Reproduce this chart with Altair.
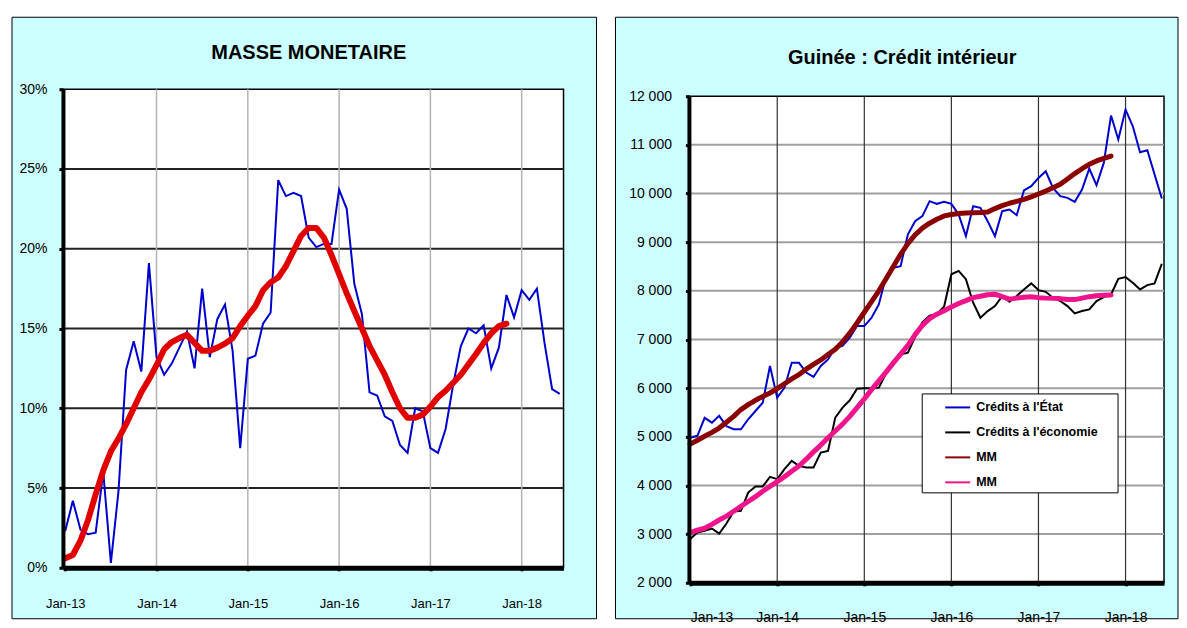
import altair as alt
import pandas as pd

# ---------------- data ----------------
year_ticks = [0, 12, 24, 36, 48, 60]          # Jan-13 ... Jan-18 (month index)
pct_ticks = [0, 5, 10, 15, 20, 25, 30]
credit_ticks = [2000, 3000, 4000, 5000, 6000, 7000, 8000, 9000, 10000, 11000, 12000]

masse_monetaire = [2.3, 4.2, 2.4, 2.1, 2.2, 6.0, 0.3, 4.8, 12.4, 14.2, 12.3, 19.1,
                   13.2, 12.1, 12.8, 13.8, 14.8, 12.5, 17.5, 13.2, 15.6, 16.5, 13.6, 7.5,
                   13.1, 13.3, 15.3, 16.0, 24.3, 23.3, 23.5, 23.3, 20.7, 20.1, 20.3, 20.3,
                   23.7, 22.5, 17.8, 15.9, 11.0, 10.8, 9.5, 9.2, 7.7, 7.2, 10.0, 9.8,
                   7.5, 7.2, 8.7, 11.5, 13.9, 15.0, 14.7, 15.2, 12.5, 13.8, 17.1, 15.7,
                   17.4, 16.8, 17.5, 14.1, 11.2, 10.9]
masse_mm = [0.6, 0.8, 1.7, 3.0, 4.6, 6.1, 7.3, 8.1, 9.0, 10.0, 11.0, 11.8,
            12.7, 13.7, 14.15, 14.4, 14.6, 14.1, 13.6, 13.6, 13.8, 14.05, 14.4, 15.15,
            15.8, 16.4, 17.4, 17.9, 18.2, 18.9, 19.85, 20.8, 21.3, 21.3, 20.7, 19.6,
            18.4, 17.2, 16.1, 15.0, 13.9, 13.0, 12.1, 11.0, 10.0, 9.4, 9.4, 9.6,
            10.1, 10.7, 11.1, 11.6, 12.1, 12.75, 13.4, 14.1, 14.7, 15.15, 15.3]

credits_etat = [4980, 5020, 5390, 5290, 5430, 5220, 5155, 5155, 5360, 5530, 5700, 6455,
                5805, 6010, 6520, 6520, 6320, 6230, 6455, 6590, 6830, 6870, 7036, 7276,
                7276, 7447, 7721, 8300, 8473, 8508, 9158, 9432, 9535, 9843, 9788, 9829,
                9788, 9569, 9124, 9740, 9706, 9432, 9124, 9637, 9672, 9555, 10062, 10150,
                10321, 10458, 10116, 9945, 9910, 9829, 10082, 10513, 10171, 10629, 11602, 11109,
                11725, 11382, 10848, 10889, 10390, 9898]
credits_economie = [2900, 3033, 3068, 3115, 3012, 3218, 3464, 3478, 3854, 3977, 3977, 4176,
                    4129, 4334, 4505, 4402, 4368, 4368, 4675, 4710, 5394, 5600, 5751, 5990,
                    6000, 6000, 6010, 6300, 6550, 6690, 6730, 7050, 7350, 7490, 7520, 7680,
                    8340, 8410, 8240, 7755, 7447, 7584, 7687, 7892, 7775, 7892, 8029, 8153,
                    8015, 7980, 7858, 7790, 7687, 7537, 7584, 7619, 7790, 7872, 7926, 8248,
                    8282, 8165, 8029, 8118, 8153, 8556]
mm_etat = [4850, 4930, 5010, 5090, 5180, 5300, 5420, 5560, 5660, 5750, 5830, 5900,
           5990, 6090, 6190, 6280, 6390, 6490, 6580, 6690, 6800, 6950, 7130, 7340,
           7560, 7780, 8000, 8250, 8500, 8750, 8970, 9150, 9290, 9390, 9470, 9540,
           9570, 9590, 9600, 9605, 9610, 9620, 9690, 9750, 9800, 9840, 9880, 9930,
           9990, 10050, 10120, 10190, 10300, 10410, 10510, 10600, 10670, 10720, 10770]
mm_economie = [3030, 3080, 3120, 3200, 3290, 3370, 3470, 3570, 3670, 3770, 3880, 3980,
               4080, 4180, 4290, 4400, 4540, 4690, 4830, 4980, 5120, 5260, 5420, 5600,
               5780, 5970, 6150, 6330, 6520, 6700, 6880, 7100, 7290, 7430, 7520, 7590,
               7670, 7740, 7800, 7860, 7890, 7920, 7930, 7880, 7830, 7850, 7870, 7880,
               7860, 7850, 7845, 7840, 7820, 7820, 7850, 7880, 7900, 7910, 7915]

series_names = ["Crédits à l'État", "Crédits à l'économie", "MM1", "MM2"]
series_colors = ["#0000CC", "#000000", "#8B0000", "#F0148C"]

# ---------------- styling ----------------
FONT = "'Liberation Sans Narrow', 'Arial Narrow', 'Liberation Sans', Arial, sans-serif"
CYAN = "#CCFFFF"
one = pd.DataFrame({"a": [0]})

# ================= LEFT PANEL =================
LW, LH = 501, 479
xs_l = alt.Scale(domain=[-0.3, 65.5], nice=False, zero=False)
ys_l = alt.Scale(domain=[0, 30], nice=False)

l_xaxis = alt.Axis(values=year_ticks, labelExpr="'Jan-' + (13 + datum.value/12)",
                   title=None, grid=False, domainColor="black", domainWidth=5,
                   tickColor="black", tickSize=3, tickWidth=3, labelPadding=27,
                   labelFont=FONT, labelFontSize=13, labelColor="black", zindex=1)
l_yaxis = alt.Axis(values=pct_ticks, labelExpr="datum.value + '%'", title=None,
                   grid=False, domainColor="black", domainWidth=4, tickColor="black",
                   tickSize=4, tickWidth=3, labelPadding=12, labelFont=FONT,
                   labelFontSize=14, labelColor="black", zindex=1)

df_mm = pd.DataFrame({"k": list(range(len(masse_monetaire))), "v": masse_monetaire})
df_mma = pd.DataFrame({"k": list(range(len(masse_mm))), "v": masse_mm})

l_bg = alt.Chart(one).mark_rect(fill=CYAN, stroke="black", strokeWidth=1).encode(
    x=alt.value(-51), x2=alt.value(534), y=alt.value(-72), y2=alt.value(530))
l_plot = alt.Chart(one).mark_rect(fill="white", stroke="black", strokeWidth=1.5).encode(
    x=alt.value(0), x2=alt.value(LW), y=alt.value(0), y2=alt.value(LH))
l_gh = alt.Chart(pd.DataFrame({"g": pct_ticks[1:-1]})).mark_rule(
    color="#222222", strokeWidth=2).encode(y=alt.Y("g:Q", scale=ys_l, axis=l_yaxis))
l_gv = alt.Chart(pd.DataFrame({"m": year_ticks[1:]})).mark_rule(
    color="#b4b4b4", strokeWidth=1.5).encode(x=alt.X("m:Q", scale=xs_l, axis=l_xaxis))

l_blue = alt.Chart(df_mm).mark_line(color="#0000CC", strokeWidth=2).encode(
    x=alt.X("k:Q", scale=xs_l, axis=l_xaxis),
    y=alt.Y("v:Q", scale=ys_l, axis=l_yaxis))
l_red = alt.Chart(df_mma).mark_line(color="#E00000", strokeWidth=6,
                                     strokeJoin="round", strokeCap="round").encode(
    x=alt.X("k:Q", scale=xs_l, axis=l_xaxis), y=alt.Y("v:Q", scale=ys_l, axis=l_yaxis))
l_title = alt.Chart(one).mark_text(text="MASSE MONETAIRE", font=FONT, fontSize=20,
                                   fontWeight="bold", color="black").encode(
    x=alt.value(246), y=alt.value(-36))

left = alt.layer(l_bg, l_plot, l_gh, l_gv, l_blue, l_red, l_title).properties(
    width=LW, height=LH)

# ================= RIGHT PANEL =================
# plot area starts 7px lower in the reference: the y domain is extended above 12 000
RW, RH = 475, 494
Y_TOP = 12144
xs_r = alt.Scale(domain=[-0.1, 65.3], nice=False, zero=False)
ys_r = alt.Scale(domain=[2000, Y_TOP], nice=False, zero=False)

r_xaxis = alt.Axis(values=year_ticks, labelExpr="'Jan-' + (13 + datum.value/12)",
                   title=None, grid=False, domainColor="black", domainWidth=5,
                   tickColor="black", tickSize=3, tickWidth=3, labelPadding=25,
                   labelFont=FONT, labelFontSize=14, labelColor="black", zindex=1)
r_yaxis = alt.Axis(values=credit_ticks,
                   labelExpr="replace(format(datum.value, ','), ',', ' ')",
                   title=None, grid=False, domain=False,
                   tickColor="black", tickSize=4, tickWidth=3, labelPadding=14,
                   labelFont=FONT, labelFontSize=14, labelColor="black", zindex=1)

thin_rows = []
for i, v in enumerate(credits_etat):
    thin_rows.append({"k": i, "v": v, "s": series_names[0]})
for i, v in enumerate(credits_economie):
    thin_rows.append({"k": i, "v": v, "s": series_names[1]})
thick_rows = []
for i, v in enumerate(mm_etat):
    thick_rows.append({"k": i, "v": v, "s": series_names[2]})
for i, v in enumerate(mm_economie):
    thick_rows.append({"k": i, "v": v, "s": series_names[3]})
df_thin = pd.DataFrame(thin_rows)
df_thick = pd.DataFrame(thick_rows)

frame = pd.DataFrame({"lo": [credit_ticks[0]], "hi": [credit_ticks[-1]]})
vgrid = pd.DataFrame({"m": year_ticks[1:], "lo": credit_ticks[0], "hi": credit_ticks[-1]})

legend = alt.Legend(orient="none", legendX=233, legendY=305, title=None,
                    direction="vertical", symbolType="stroke", symbolSize=625,
                    symbolStrokeWidth=2, symbolOffset=22, labelOffset=5,
                    rowPadding=5, padding=0,
                    labelFont=FONT, labelFontSize=12.5, labelFontWeight="bold",
                    labelColor="black",
                    labelExpr="datum.label == 'MM1' || datum.label == 'MM2' ? 'MM' : datum.label")
cscale = alt.Scale(domain=series_names, range=series_colors)

r_bg = alt.Chart(one).mark_rect(fill=CYAN, stroke="black", strokeWidth=1).encode(
    x=alt.value(-74), x2=alt.value(489), y=alt.value(-72), y2=alt.value(530))
r_plot = alt.Chart(frame).mark_rect(fill="white", stroke="black", strokeWidth=1.5).encode(
    x=alt.value(0), x2=alt.value(RW),
    y=alt.Y("hi:Q", scale=ys_r, axis=r_yaxis), y2="lo:Q")
r_gh = alt.Chart(pd.DataFrame({"g": credit_ticks[1:-1]})).mark_rule(
    color="#a0a0a0", strokeWidth=2).encode(y=alt.Y("g:Q", scale=ys_r, axis=r_yaxis))
r_gv = alt.Chart(vgrid).mark_rule(color="#333333", strokeWidth=1.2).encode(
    x=alt.X("m:Q", scale=xs_r, axis=r_xaxis),
    y=alt.Y("hi:Q", scale=ys_r, axis=r_yaxis), y2="lo:Q")
r_axisline = alt.Chart(frame).mark_rule(color="black", strokeWidth=4).encode(
    x=alt.value(0), y=alt.Y("hi:Q", scale=ys_r, axis=r_yaxis), y2="lo:Q")
# legend box
r_legbox = alt.Chart(one).mark_rect(fill="white", stroke="black", strokeWidth=1).encode(
    x=alt.value(233), x2=alt.value(429), y=alt.value(305), y2=alt.value(404))

r_thin = alt.Chart(df_thin).mark_line(strokeWidth=2).encode(
    x=alt.X("k:Q", scale=xs_r, axis=r_xaxis),
    y=alt.Y("v:Q", scale=ys_r, axis=r_yaxis),
    color=alt.Color("s:N", scale=cscale, legend=legend),
    detail="s:N")
r_thick = alt.Chart(df_thick).mark_line(strokeWidth=5, strokeJoin="round",
                                        strokeCap="round").encode(
    x=alt.X("k:Q", scale=xs_r, axis=r_xaxis),
    y=alt.Y("v:Q", scale=ys_r, axis=r_yaxis),
    color=alt.Color("s:N", scale=cscale, legend=legend),
    detail="s:N")
r_title = alt.Chart(one).mark_text(text="Guinée : Crédit intérieur", font=FONT,
                                   fontSize=20, fontWeight="bold", color="black").encode(
    x=alt.value(213), y=alt.value(-31))

right = alt.layer(r_bg, r_plot, r_gh, r_gv, r_thin, r_thick, r_axisline, r_legbox,
                  r_title).properties(width=RW, height=RH)

chart = alt.hconcat(left, right, spacing=17).resolve_scale(
    color="independent").resolve_legend(color="independent").properties(
    padding={"left": 3, "top": 8, "right": 0, "bottom": 0}
).configure(font=FONT, background="white").configure_view(strokeWidth=0)

chart.save("out.html", embed_options={"renderer": "svg", "actions": False})
